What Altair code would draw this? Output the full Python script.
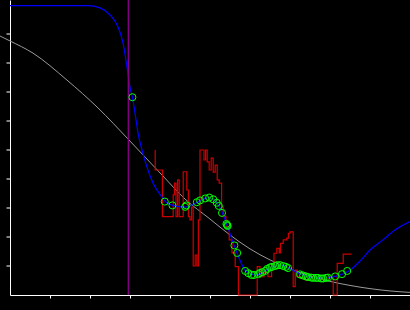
import altair as alt
import pandas as pd

# Blue fitted curve
blue_x = [0, 1.95, 2.25, 2.5, 2.7, 2.825, 2.925, 3.0, 3.06, 3.125, 3.2, 3.3, 3.425, 3.575, 3.8, 3.875,
          4.05, 4.375, 4.7, 4.875, 4.975, 5.075, 5.175, 5.3, 5.425, 5.6, 5.675, 5.875, 6.0, 6.15, 6.3,
          6.45, 6.625, 6.75, 6.875, 7.0, 7.25, 7.5, 7.75, 7.95, 8.125, 8.3, 8.45, 8.75, 9.0, 9.325,
          9.625, 10]
blue_y = [9.98, 9.98, 9.90, 9.66, 9.24, 8.69, 7.86, 7.17, 6.82, 6.28, 5.59, 5.0, 4.41, 3.86, 3.38, 3.24,
          3.10, 3.03, 3.21, 3.33, 3.36, 3.31, 3.17, 2.86, 2.41, 1.72, 1.45, 0.86, 0.74, 0.69, 0.76,
          0.90, 1.0, 1.03, 1.0, 0.91, 0.72, 0.62, 0.59, 0.60, 0.64, 0.72, 0.81, 1.17, 1.55, 1.90,
          2.24, 2.53]

# Gray smooth curve
gray_x = [-0.25, 0, 0.575, 1.425, 2.2, 2.95, 3.825, 4.375, 5.0, 5.5, 6.0, 6.5, 7.0, 7.5, 8.0, 8.5,
          9.0, 9.5, 10]
gray_y = [8.93, 8.76, 8.34, 7.41, 6.45, 5.38, 4.10, 3.31, 2.62, 2.07, 1.59, 1.21, 0.90, 0.66, 0.47,
          0.33, 0.22, 0.14, 0.09]

# Red step signal
red_x = [3.63, 3.63, 3.81, 4.08, 4.11, 4.15, 4.19, 4.23, 4.33, 4.42, 4.46, 4.50, 4.54, 4.58, 4.63,
         4.67, 4.71, 4.75, 4.85, 4.89, 4.93, 4.98, 5.03, 5.08, 5.13, 5.18, 5.23, 5.29, 5.33, 5.40,
         5.48, 5.55, 5.63, 5.71, 6.18, 6.25, 6.35, 6.45, 6.54, 6.60, 6.67, 6.73, 6.76, 6.83, 6.92,
         6.96, 7.00, 7.08, 7.13, 7.18, 7.25, 7.38, 7.55, 7.75, 7.95, 8.08, 8.18, 8.33, 8.54]
red_y = [5.00, 4.31, 2.70, 3.45, 3.86, 2.70, 3.97, 2.70, 4.25, 3.62, 2.70, 2.59, 3.03, 1.00, 1.38,
         1.00, 2.59, 5.00, 4.66, 5.00, 4.59, 4.31, 4.72, 4.24, 4.48, 3.97, 3.86, 3.04, 2.70, 2.36,
         1.90, 1.45, 0.98, 0.00, 0.98, 0.63, 0.79, 0.63, 0.98, 1.44, 1.61, 1.45, 1.78, 1.90, 1.96,
         2.13, 2.18, 0.29, 0.86, 0.63, 0.59, 0.52, 0.62, 0.55, 0.62, 0.00, 1.09, 1.41, 1.41]

# Green data points
pt_x = [3.06, 3.87, 4.06, 4.38, 4.41, 4.67, 4.75, 4.88, 4.98, 5.08, 5.17, 5.22, 5.30, 5.43, 5.44,
        5.41, 5.61, 5.68, 5.88, 5.96, 6.04, 6.10, 6.21, 6.25, 6.31, 6.38, 6.43, 6.50, 6.55, 6.63,
        6.68, 6.75, 6.83, 6.90, 6.95, 7.25, 7.33, 7.40, 7.45, 7.53, 7.58, 7.65, 7.70, 7.78, 7.83,
        7.90, 7.95, 8.13, 8.30, 8.43]
pt_y = [6.82, 3.22, 3.09, 3.04, 3.09, 3.20, 3.26, 3.33, 3.36, 3.30, 3.18, 3.07, 2.83, 2.41, 2.38,
        2.45, 1.71, 1.45, 0.83, 0.75, 0.69, 0.69, 0.72, 0.76, 0.79, 0.83, 0.90, 0.95, 0.97, 1.00,
        1.03, 1.03, 1.00, 0.97, 0.93, 0.71, 0.67, 0.64, 0.62, 0.60, 0.59, 0.59, 0.59, 0.57, 0.57,
        0.59, 0.60, 0.64, 0.72, 0.83]

# Vertical marker
marker_x = [2.96]

tick_vals = [1, 2, 3, 4, 5, 6, 7, 8, 9]

xs = alt.Scale(domain=[0, 10], nice=False, zero=False)
ys = alt.Scale(domain=[0, 295 / 29], nice=False, zero=False)

ax_x = alt.Axis(values=tick_vals, labels=False, title=None, grid=False, domainColor="white",
                tickColor="white", tickSize=3, domainWidth=1, tickWidth=1, tickOpacity=1)
ax_y = alt.Axis(values=tick_vals, labels=False, ticks=False, title=None, grid=False,
                domainColor="white", domainWidth=1)

blue_df = pd.DataFrame({"x": blue_x, "y": blue_y, "i": range(len(blue_x))})
gray_df = pd.DataFrame({"x": gray_x, "y": gray_y, "i": range(len(gray_x))})
red_df = pd.DataFrame({"x": red_x, "y": red_y, "i": range(len(red_x))})
pt_df = pd.DataFrame({"x": pt_x, "y": pt_y})
mk_df = pd.DataFrame({"x": marker_x})
tk_df = pd.DataFrame({"v": tick_vals})

gray = alt.Chart(gray_df).mark_line(color="#9a9a9a", strokeWidth=1, interpolate="monotone").encode(
    x=alt.X("x:Q", scale=xs, axis=ax_x), y=alt.Y("y:Q", scale=ys, axis=ax_y), order="i:Q")
yticks = alt.Chart(tk_df).mark_rule(color="white", strokeWidth=1).encode(
    y=alt.Y("v:Q", scale=ys), x=alt.value(-3.5), x2=alt.value(0))
red = alt.Chart(red_df).mark_line(color="#cc0000", strokeWidth=1.2, interpolate="step-after").encode(
    x=alt.X("x:Q", scale=xs), y=alt.Y("y:Q", scale=ys), order="i:Q")
blue = alt.Chart(blue_df).mark_line(color="#0000ff", strokeWidth=1.2, interpolate="monotone").encode(
    x=alt.X("x:Q", scale=xs), y=alt.Y("y:Q", scale=ys), order="i:Q")
marker = alt.Chart(mk_df).mark_rule(color="#800080", strokeWidth=1.5).encode(
    x=alt.X("x:Q", scale=xs))
pts = alt.Chart(pt_df).mark_point(shape="circle", color="#00ff00", filled=False, size=50,
                                  strokeWidth=1, opacity=1).encode(
    x=alt.X("x:Q", scale=xs), y=alt.Y("y:Q", scale=ys))

chart = alt.layer(gray, yticks, red, blue, marker, pts).properties(
    width=400, height=295,
    padding={"left": 10, "top": 0, "right": 0, "bottom": 15},
    autosize=alt.AutoSizeParams(type="none"),
    background="#000000",
).configure_view(strokeWidth=0)

chart.save("out.html", embed_options={"renderer": "svg", "actions": False})
